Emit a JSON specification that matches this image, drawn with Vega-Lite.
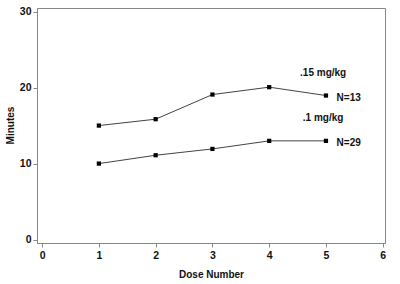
{
  "$schema": "https://vega.github.io/schema/vega-lite/v6.json",
  "autosize": "none",
  "width": 348,
  "height": 235,
  "padding": {"left": 37, "top": 8, "right": 15, "bottom": 41},
  "background": "white",
  "config": {
    "view": {"stroke": "#888888", "strokeWidth": 1},
    "font": "Liberation Sans",
    "axis": {
      "grid": false,
      "domainColor": "#888888",
      "tickColor": "#888888",
      "tickSize": 4,
      "labelFont": "Liberation Sans",
      "labelFontWeight": "bold",
      "labelFontSize": 10.5,
      "labelColor": "#111111",
      "titleFont": "Liberation Sans",
      "titleFontWeight": "bold",
      "titleFontSize": 10,
      "titleColor": "#111111"
    }
  },
  "datasets": {
    "series": [
      {"dose": 1, "minutes": 15.04, "group": ".15 mg/kg"},
      {"dose": 2, "minutes": 15.88, "group": ".15 mg/kg"},
      {"dose": 3, "minutes": 19.12, "group": ".15 mg/kg"},
      {"dose": 4, "minutes": 20.09, "group": ".15 mg/kg"},
      {"dose": 5, "minutes": 18.99, "group": ".15 mg/kg"},
      {"dose": 1, "minutes": 10.04, "group": ".1 mg/kg"},
      {"dose": 2, "minutes": 11.14, "group": ".1 mg/kg"},
      {"dose": 3, "minutes": 11.97, "group": ".1 mg/kg"},
      {"dose": 4, "minutes": 13.03, "group": ".1 mg/kg"},
      {"dose": 5, "minutes": 13.03, "group": ".1 mg/kg"}
    ],
    "labels": [
      {"x": 4.95, "y": 22.0, "text": ".15 mg/kg"},
      {"x": 5.4, "y": 18.7, "text": "N=13"},
      {"x": 4.95, "y": 16.05, "text": ".1 mg/kg"},
      {"x": 5.4, "y": 12.75, "text": "N=29"}
    ]
  },
  "layer": [
    {
      "data": {"name": "series"},
      "mark": {"type": "line", "interpolate": "linear", "color": "#444444", "strokeWidth": 1},
      "encoding": {
        "x": {"field": "dose", "type": "quantitative", "scale": {"domain": [-0.09, 6.04], "nice": false, "zero": false},
              "axis": {"values": [0, 1, 2, 3, 4, 5, 6], "format": "d", "title": "Dose Number", "labelPadding": 3, "titleY": 31, "titleBaseline": "middle"}},
        "y": {"field": "minutes", "type": "quantitative", "scale": {"domain": [-0.4, 30.5], "nice": false, "zero": false},
              "axis": {"values": [0, 10, 20, 30], "format": "d", "title": "Minutes", "labelPadding": 2, "titleX": -27, "titleY": 117, "titleAngle": -90, "titleAlign": "center", "titleBaseline": "middle"}},
        "detail": {"field": "group"}
      }
    },
    {
      "data": {"name": "series"},
      "mark": {"type": "square", "filled": true, "color": "#000000", "size": 18, "opacity": 1},
      "encoding": {
        "x": {"field": "dose", "type": "quantitative"},
        "y": {"field": "minutes", "type": "quantitative"}
      }
    },
    {
      "data": {"name": "labels"},
      "mark": {"type": "text", "font": "Liberation Sans", "fontWeight": "bold", "fontSize": 10, "color": "#111111", "align": "center", "baseline": "middle"},
      "encoding": {
        "x": {"field": "x", "type": "quantitative"},
        "y": {"field": "y", "type": "quantitative"},
        "text": {"field": "text"}
      }
    }
  ]
}
